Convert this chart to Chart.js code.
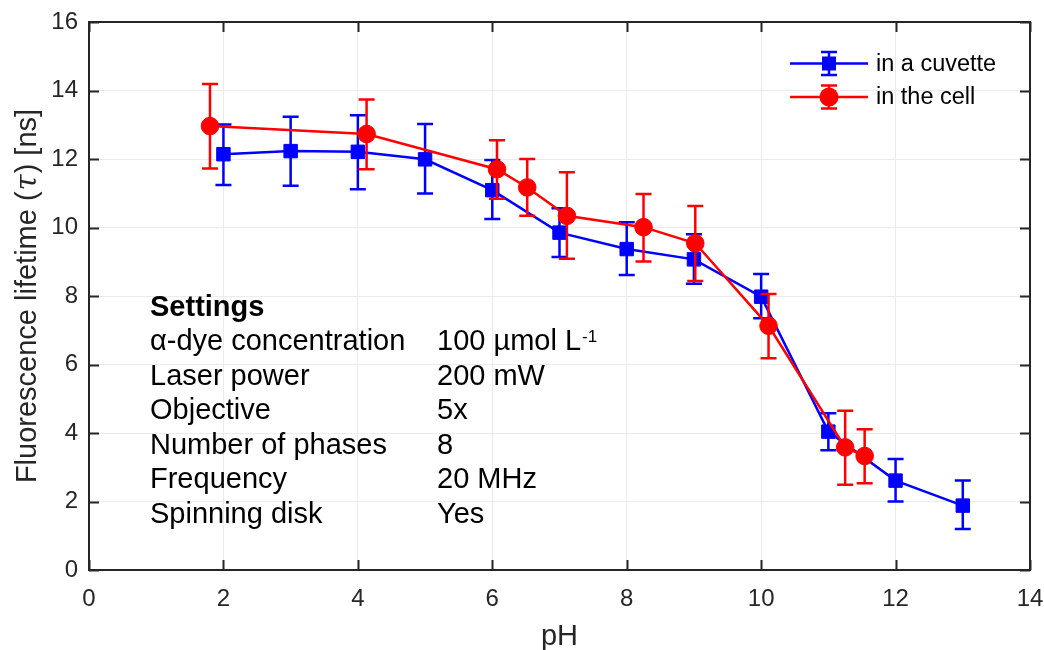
<!DOCTYPE html>
<html>
<head>
<meta charset="utf-8">
<script src="https://cdn.jsdelivr.net/npm/chart.js@4/dist/chart.umd.min.js"></script>
<style>
  html, body { margin: 0; padding: 0; background: #ffffff; }
  #wrap { width: 1044px; height: 650px; }
</style>
</head>
<body>
<div id="wrap"><canvas id="c" width="1044" height="650"></canvas></div>
<script>
// ---- data ----
const cuvettePH    = [2, 3, 4, 5, 6, 7, 8, 9, 10, 11, 12, 13];
const cuvetteTau   = [12.14, 12.23, 12.21, 11.99, 11.09, 9.85, 9.37, 9.07, 7.98, 4.04, 2.61, 1.88];
const cuvetteUpper = [13.01, 13.23, 13.28, 13.02, 11.97, 10.56, 10.15, 9.80, 8.64, 4.58, 3.24, 2.61];
const cuvetteLower = [11.24, 11.22, 11.12, 10.99, 10.25, 9.14, 8.61, 8.36, 7.35, 3.50, 2.00, 1.20];

const cellPH    = [1.80, 4.13, 6.07, 6.52, 7.11, 8.25, 9.02, 10.11, 11.25, 11.54];
const cellTau   = [12.96, 12.73, 11.70, 11.17, 10.34, 10.01, 9.54, 7.13, 3.58, 3.33];
const cellUpper = [14.19, 13.74, 12.55, 12.00, 11.61, 10.98, 10.63, 8.06, 4.65, 4.11];
const cellLower = [11.72, 11.70, 10.84, 10.34, 9.09, 9.01, 8.44, 6.18, 2.49, 2.53];

const xTicks = [0, 2, 4, 6, 8, 10, 12, 14];
const yTicks = [0, 2, 4, 6, 8, 10, 12, 14, 16];

const seriesNames = ['in a cuvette', 'in the cell'];
const xTitle = 'pH';
const yTitleParts = ['Fluorescence lifetime (', '\u03C4', ') [ns]'];

const settingsTitle = 'Settings';
const settingsLabels = ['\u03B1-dye concentration', 'Laser power', 'Objective', 'Number of phases', 'Frequency', 'Spinning disk'];
const settingsValues = ['100 \u00B5mol L', '200 mW', '5x', '8', '20 MHz', 'Yes'];
const settingsSup = ['-1', '', '', '', '', ''];

// ---- styling ----
const BLUE = '#0000ff';
const RED = '#ff0000';
const AXIS = '#262626';
const FONT = '"Liberation Sans", Arial, Helvetica, sans-serif';

const toPts = (xs, ys) => xs.map((x, i) => ({ x: x, y: ys[i] }));

const errorBars = {
  0: { lower: cuvetteLower, upper: cuvetteUpper, xs: cuvettePH, color: BLUE },
  1: { lower: cellLower, upper: cellUpper, xs: cellPH, color: RED }
};

const plotDecor = {
  id: 'plotDecor',
  beforeDatasetDraw(chart, args) {
    const eb = errorBars[args.index];
    if (!eb) return;
    const { ctx, scales: { x, y } } = chart;
    ctx.save();
    ctx.strokeStyle = eb.color;
    ctx.lineWidth = 2.5;
    ctx.lineCap = 'butt';
    eb.xs.forEach((xv, i) => {
      const px = x.getPixelForValue(xv);
      const pt = y.getPixelForValue(eb.upper[i]);
      const pb = y.getPixelForValue(eb.lower[i]);
      ctx.beginPath();
      ctx.moveTo(px, pt); ctx.lineTo(px, pb);
      ctx.moveTo(px - 8, pt); ctx.lineTo(px + 8, pt);
      ctx.moveTo(px - 8, pb); ctx.lineTo(px + 8, pb);
      ctx.stroke();
    });
    ctx.restore();
  },
  afterDraw(chart) {
    const { ctx, chartArea: a, scales: { x, y } } = chart;
    ctx.save();
    // box
    ctx.strokeStyle = AXIS;
    ctx.lineWidth = 2;
    ctx.beginPath();
    ctx.moveTo(a.left, a.top); ctx.lineTo(a.right, a.top); ctx.lineTo(a.right, a.bottom);
    ctx.stroke();
    // inward ticks
    const tl = 10;
    ctx.beginPath();
    xTicks.forEach(v => {
      const px = Math.round(x.getPixelForValue(v)) + 0.5;
      ctx.moveTo(px, a.bottom); ctx.lineTo(px, a.bottom - tl);
      ctx.moveTo(px, a.top); ctx.lineTo(px, a.top + tl);
    });
    yTicks.forEach(v => {
      const py = Math.round(y.getPixelForValue(v)) + 0.5;
      ctx.moveTo(a.left, py); ctx.lineTo(a.left + tl, py);
      ctx.moveTo(a.right, py); ctx.lineTo(a.right - tl, py);
    });
    ctx.stroke();

    // y axis title with italic tau
    ctx.fillStyle = AXIS;
    ctx.textBaseline = 'alphabetic';
    ctx.textAlign = 'left';
    const fN = '29px ' + FONT;
    const fI = 'italic 29px "DejaVu Serif", "Liberation Serif", serif';
    ctx.font = fN; const w0 = ctx.measureText(yTitleParts[0]).width;
    ctx.font = fI; const w1 = ctx.measureText(yTitleParts[1]).width;
    ctx.font = fN; const w2 = ctx.measureText(yTitleParts[2]).width;
    const total = w0 + w1 + w2 + 2;
    ctx.save();
    ctx.translate(36, (a.top + a.bottom) / 2);
    ctx.rotate(-Math.PI / 2);
    let cx = -total / 2;
    ctx.font = fN; ctx.fillText(yTitleParts[0], cx, 0); cx += w0 + 1;
    ctx.font = fI; ctx.fillText(yTitleParts[1], cx, 0); cx += w1 + 1;
    ctx.font = fN; ctx.fillText(yTitleParts[2], cx, 0);
    ctx.restore();

    // x axis title
    ctx.font = '29px ' + FONT;
    ctx.textAlign = 'center';
    ctx.fillText(xTitle, (a.left + a.right) / 2, 645);

    // legend
    const legY = [63.5, 97];
    const legX0 = 790, legX1 = 868, legM = 829;
    [BLUE, RED].forEach((col, i) => {
      const yy = legY[i];
      ctx.strokeStyle = col; ctx.fillStyle = col; ctx.lineWidth = 2.5;
      ctx.beginPath();
      ctx.moveTo(legX0, yy); ctx.lineTo(legX1, yy);
      ctx.moveTo(legM, yy - 11.5); ctx.lineTo(legM, yy + 11.5);
      ctx.moveTo(legM - 8, yy - 11.5); ctx.lineTo(legM + 8, yy - 11.5);
      ctx.moveTo(legM - 8, yy + 11.5); ctx.lineTo(legM + 8, yy + 11.5);
      ctx.stroke();
      if (i === 0) {
        ctx.fillRect(legM - 7, yy - 7, 14, 14);
      } else {
        ctx.beginPath(); ctx.arc(legM, yy, 9.5, 0, Math.PI * 2); ctx.fill();
      }
      ctx.fillStyle = '#000000';
      ctx.font = '23.5px ' + FONT;
      ctx.textAlign = 'left';
      ctx.textBaseline = 'middle';
      ctx.fillText(seriesNames[i], 876, yy + 1);
    });

    // settings annotation
    ctx.fillStyle = '#000000';
    ctx.textBaseline = 'alphabetic';
    ctx.textAlign = 'left';
    ctx.font = 'bold 29px ' + FONT;
    ctx.fillText(settingsTitle, 150, 315.5);
    settingsLabels.forEach((lab, i) => {
      const by = 350.2 + i * 34.5;
      ctx.font = '29px ' + FONT;
      ctx.fillText(lab, 150, by);
      ctx.fillText(settingsValues[i], 437, by);
      if (settingsSup[i]) {
        const w = ctx.measureText(settingsValues[i]).width;
        ctx.font = '17px ' + FONT;
        ctx.fillText(settingsSup[i], 437 + w + 1, by - 8);
      }
    });
    ctx.restore();
  }
};

const tickFont = { family: FONT, size: 24 };

new Chart(document.getElementById('c'), {
  type: 'scatter',
  data: {
    datasets: [
      {
        label: seriesNames[0],
        data: toPts(cuvettePH, cuvetteTau),
        showLine: true,
        borderColor: BLUE,
        backgroundColor: BLUE,
        borderWidth: 2.5,
        pointStyle: 'rect',
        pointRadius: 9.5,
        pointBorderWidth: 1,
        pointBackgroundColor: BLUE,
        pointBorderColor: BLUE,
        order: 2
      },
      {
        label: seriesNames[1],
        data: toPts(cellPH, cellTau),
        showLine: true,
        borderColor: RED,
        backgroundColor: RED,
        borderWidth: 2.5,
        pointStyle: 'circle',
        pointRadius: 8.8,
        pointBorderWidth: 1,
        pointBackgroundColor: RED,
        pointBorderColor: RED,
        order: 1
      }
    ]
  },
  options: {
    responsive: false,
    animation: false,
    layout: { padding: { left: 0, right: 14, top: 22, bottom: 0 } },
    plugins: { legend: { display: false }, tooltip: { enabled: false } },
    scales: {
      x: {
        type: 'linear', min: 0, max: 14,
        afterBuildTicks: s => { s.ticks = xTicks.map(v => ({ value: v })); },
        ticks: { color: AXIS, font: tickFont, padding: 15, maxRotation: 0 },
        grid: { color: '#ebebeb', lineWidth: 1, drawTicks: false },
        border: { display: true, color: AXIS, width: 2 },
        afterFit: s => { s.height = 80; s.paddingLeft = 0; s.paddingRight = 0; }
      },
      y: {
        type: 'linear', min: 0, max: 16,
        afterBuildTicks: s => { s.ticks = yTicks.map(v => ({ value: v })); },
        ticks: { color: AXIS, font: tickFont, padding: 11 },
        grid: { color: '#ebebeb', lineWidth: 1, drawTicks: false },
        border: { display: true, color: AXIS, width: 2 },
        afterFit: s => { s.width = 89; s.paddingTop = 0; s.paddingBottom = 0; }
      }
    }
  },
  plugins: [plotDecor]
});
</script>
</body>
</html>
